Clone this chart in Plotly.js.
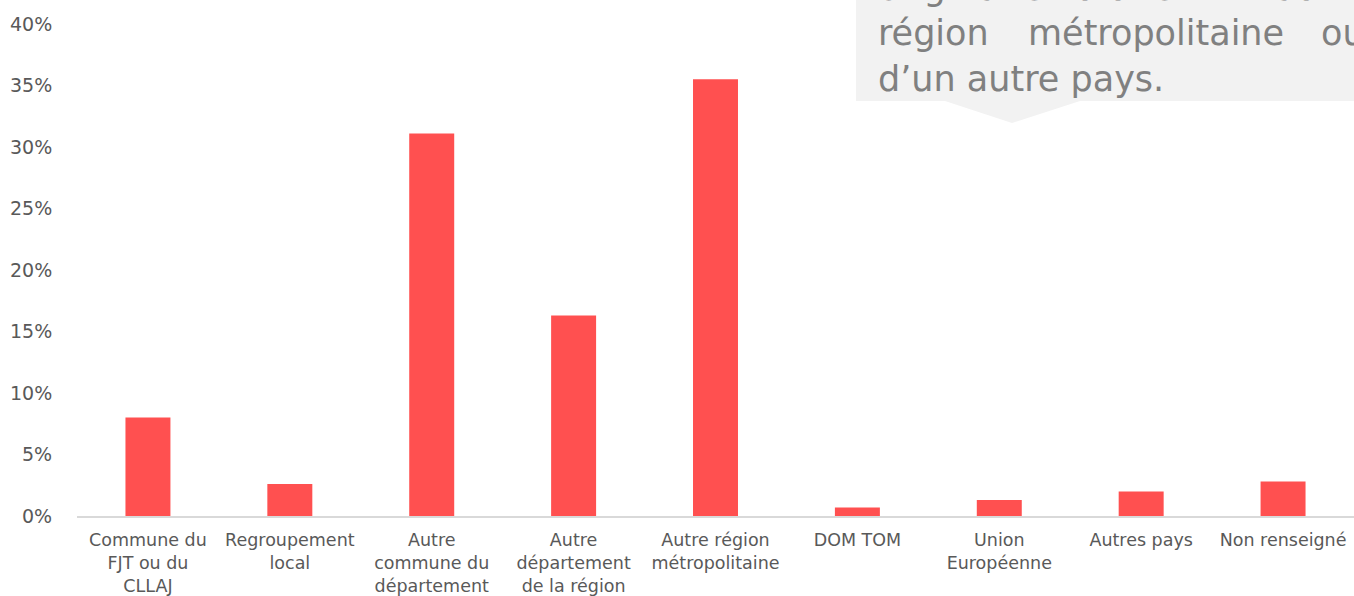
<!DOCTYPE html>
<html>
<head>
<meta charset="utf-8">
<script src="https://cdn.plot.ly/plotly-3.0.1.min.js"></script>
<style>
html,body{margin:0;padding:0;background:#fff;}
#chart{width:1354px;height:596px;}
</style>
</head>
<body>
<div id="chart"></div>
<script>
const categories = [
  "Commune du<br>FJT ou du<br>CLLAJ",
  "Regroupement<br>local",
  "Autre<br>commune du<br>département",
  "Autre<br>département<br>de la région",
  "Autre région<br>métropolitaine",
  "DOM TOM",
  "Union<br>Européenne",
  "Autres pays",
  "Non renseigné"
];
const values = [8.0, 2.6, 31.1, 16.3, 35.5, 0.7, 1.3, 2.0, 2.8];
const yTickValues = [0, 5, 10, 15, 20, 25, 30, 35, 40];
const yTickLabels = ["0%", "5%", "10%", "15%", "20%", "25%", "30%", "35%", "40%"];
const calloutLines = [
  ["originaire", "d’une", "autre"],
  ["région", "métropolitaine", "ou"],
  ["d’un autre pays."]
];

const W = 1354, H = 596;
const M = {l: 77, r: 0, t: 24, b: 80};
const pw = W - M.l - M.r, ph = H - M.t - M.b;
const px = x => (x - M.l) / pw;
const py = y => (H - M.b - y) / ph;

const FONT = "'DejaVu Sans', sans-serif";
const GREY = "#595959";

const trace = {
  type: "bar",
  x: categories,
  y: values,
  marker: {color: "#FF5050"},
  hoverinfo: "skip"
};

// Callout box (grey) with downward pointer
const shapes = [
  {type: "path", xref: "paper", yref: "paper",
   path: `M ${px(856)} ${py(-5)} L ${px(1360)} ${py(-5)} L ${px(1360)} ${py(101)} L ${px(1080)} ${py(101)} L ${px(1012)} ${py(123)} L ${px(945)} ${py(101)} L ${px(856)} ${py(101)} Z`,
   fillcolor: "#F2F2F2", line: {width: 0}, layer: "above"}
];

const wordX = [
  [876, 1073, 1273],
  [876, 1026, 1319],
  [876]
];
const lineY = [-11.5, 33, 79];
const annotations = [];
calloutLines.forEach((words, i) => {
  words.forEach((w, j) => {
    annotations.push({
      xref: "paper", yref: "paper",
      x: px(wordX[i][j]), y: py(lineY[i]),
      xanchor: "left", yanchor: "middle",
      text: w, showarrow: false,
      font: {family: FONT, size: 35, color: "#808080"}
    });
  });
});

const layout = {
  width: W, height: H,
  margin: M,
  paper_bgcolor: "#fff", plot_bgcolor: "#fff",
  bargap: 0.683,
  showlegend: false,
  font: {family: FONT, color: GREY},
  xaxis: {
    type: "category",
    showgrid: false, zeroline: false,
    showline: true, linecolor: "#D9D9D9", linewidth: 2,
    ticks: "outside", ticklen: 7, tickcolor: "rgba(0,0,0,0)",
    tickfont: {family: FONT, size: 17.5, color: GREY},
    fixedrange: true
  },
  yaxis: {
    range: [0, 40],
    tickvals: yTickValues, ticktext: yTickLabels,
    showgrid: false, zeroline: false, showline: false,
    ticks: "outside", ticklen: 20, tickcolor: "rgba(0,0,0,0)",
    tickfont: {family: FONT, size: 19, color: GREY},
    fixedrange: true
  },
  shapes: shapes,
  annotations: annotations
};

Plotly.newPlot("chart", [trace], layout, {displayModeBar: false, staticPlot: true});
</script>
</body>
</html>
